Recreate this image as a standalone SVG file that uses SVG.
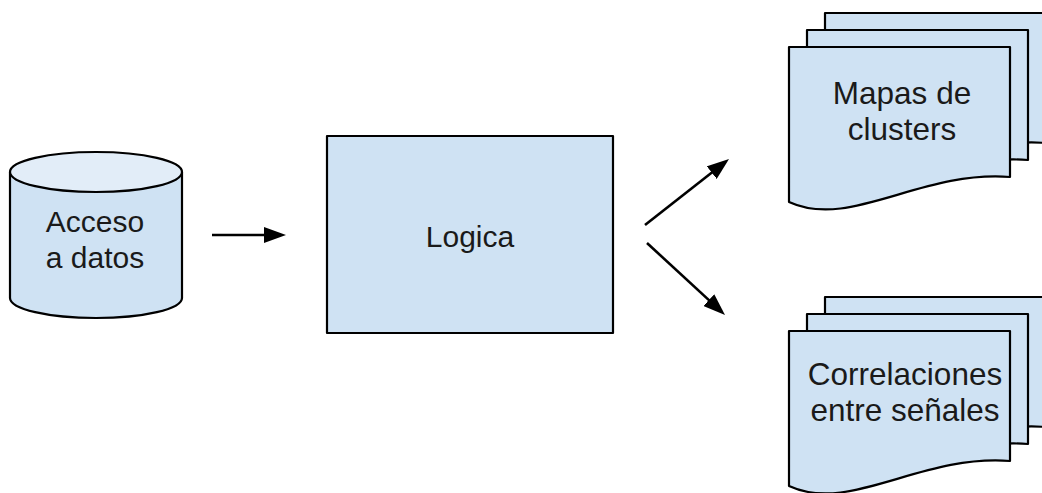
<svg xmlns="http://www.w3.org/2000/svg" width="1042" height="493" viewBox="0 0 1042 493">
  <style>
    .shape { fill: #cfe2f3; stroke: #000; stroke-width: 2.2; stroke-linejoin: round; }
    .cap { fill: #e2edf8; stroke: #000; stroke-width: 2.2; }
    .label { font-family: "Liberation Sans", Arial, sans-serif; font-size: 30px; fill: #1a1a1a; text-anchor: middle; }
    .doc-label { font-size: 31.5px; }
    .conn { stroke: #000; stroke-width: 2.6; fill: none; }
  </style>
  <defs>
    <marker id="arrow" viewBox="0 0 22 16" refX="16" refY="8" markerWidth="22" markerHeight="16" markerUnits="userSpaceOnUse" orient="auto">
      <path d="M0,0 L22,8 L0,16 Z" fill="#000"/>
    </marker>
    <!-- document shape with wavy bottom, origin at top-left corner -->
    <path id="doc" d="M0,0 H221 V130 C131,123 61,183 0,155 Z"/>
  </defs>

  <g id="acceso-datos">
    <path class="shape" d="M10,172 V298 A86,20 0 0 0 182,298 V172"/>
    <ellipse class="cap" cx="96" cy="172" rx="86" ry="20"/>
    <text class="label" x="95" y="232">Acceso</text>
    <text class="label" x="95" y="268">a datos</text>
  </g>

  <g id="logica">
    <rect class="shape" x="327" y="136" width="286" height="197"/>
    <text class="label" x="470" y="247">Logica</text>
  </g>

  <g id="mapas-clusters">
    <use href="#doc" class="shape" x="825" y="13"/>
    <use href="#doc" class="shape" x="807" y="30"/>
    <use href="#doc" class="shape" x="789" y="47"/>
    <text class="label doc-label" x="902" y="104">Mapas de</text>
    <text class="label doc-label" x="902" y="140">clusters</text>
  </g>

  <g id="correlaciones">
    <use href="#doc" class="shape" x="825" y="297"/>
    <use href="#doc" class="shape" x="807" y="314"/>
    <use href="#doc" class="shape" x="789" y="331"/>
    <text class="label doc-label" x="905" y="385">Correlaciones</text>
    <text class="label doc-label" x="905" y="421">entre señales</text>
  </g>

  <g id="connectors">
    <line class="conn" x1="212" y1="235" x2="280" y2="235" marker-end="url(#arrow)"/>
    <line class="conn" x1="645" y1="225" x2="724.3" y2="162.7" marker-end="url(#arrow)"/>
    <line class="conn" x1="647" y1="243" x2="720.6" y2="310.9" marker-end="url(#arrow)"/>
  </g>
</svg>
